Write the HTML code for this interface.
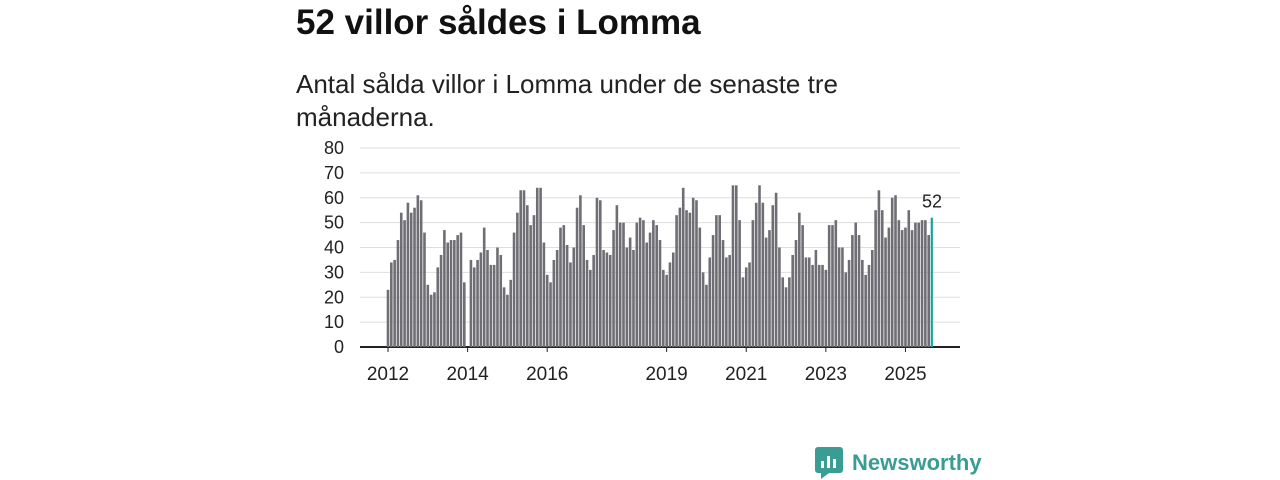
<!DOCTYPE html>
<html><head><meta charset="utf-8"><style>
body{margin:0;width:1280px;height:480px;background:#fff;font-family:"Liberation Sans",sans-serif;overflow:hidden;position:relative}
.t{position:absolute;left:296px;top:3px;font-size:35px;font-weight:bold;color:#111}
.s{position:absolute;left:296px;top:68px;font-size:26px;line-height:33px;color:#222;width:600px}
</style></head><body>
<div class="t">52 villor såldes i Lomma</div>
<div class="s">Antal sålda villor i Lomma under de senaste tre månaderna.</div>
<svg id="c" width="1280" height="480" style="position:absolute;left:0;top:0"></svg>
<div style="position:absolute;left:815px;top:447px;display:flex;align-items:center">
<svg width="28" height="32"><rect x="0" y="0" width="28" height="26" rx="3" fill="#3a9d94"/><polygon points="6,26 14,26 6,32" fill="#3a9d94"/><rect x="6" y="14" width="3" height="7" fill="#fff"/><rect x="12" y="9" width="3" height="12" fill="#fff"/><rect x="18" y="12" width="3" height="9" fill="#fff"/></svg>
<span style="margin-left:9px;font-size:22px;font-weight:bold;color:#3a9d94">Newsworthy</span></div>
<script>
const values=[23,34,35,43,54,51,58,54,56,61,59,46,
25,21,22,32,37,47,42,43,43,45,46,26,
0,35,32,35,38,48,39,33,33,40,37,24,
21,27,46,54,63,63,57,49,53,64,64,42,
29,26,35,39,48,49,41,34,40,56,61,49,
35,31,37,60,59,39,38,37,47,57,50,50,
40,44,39,50,52,51,42,46,51,49,43,31,
29,34,38,53,56,64,55,54,60,59,48,30,
25,36,45,53,53,43,36,37,65,65,51,28,
32,34,51,58,65,58,44,47,57,62,40,28,
24,28,37,43,54,49,36,36,33,39,33,33,
31,49,49,51,40,40,30,35,45,50,45,35,
29,33,39,55,63,55,44,48,60,61,51,47,
48,55,47,50,50,51,51,45,52];
const yTicks=[0,10,20,30,40,50,60,70,80];
const xYears=[2012,2014,2016,2019,2021,2023,2025];
const startYear=2012;
const svg=document.getElementById('c');const NS='http://www.w3.org/2000/svg';
const n=values.length;
const X=i=>388+i*(932-388)/(n-1);
const Y=v=>347-v*(347-148)/80;
function mk(t,a){const e=document.createElementNS(NS,t);for(const k in a)e.setAttribute(k,a[k]);svg.appendChild(e);return e;}
yTicks.forEach(v=>{
 const g=mk('line',{x1:360,x2:960,y1:Y(v),y2:Y(v),stroke:v?'#dedede':'#222','stroke-width':v?1:2});
 
 
 const t=mk('text',{x:344,y:Y(v)+6,'text-anchor':'end','font-size':18,fill:'#222'});t.textContent=v;
 
 
});
values.forEach((v,i)=>{
 const last=i===n-1;
 const r=mk('rect',{x:X(i)-1.3,y:Y(v),width:last?2.2:2.6,height:347-Y(v),fill:last?'#1aa39a':'#6e6e74'});
 
 
});
const lt=mk('text',{x:X(n-1),y:Y(values[n-1])-10,'text-anchor':'middle','font-size':18,fill:'#222'});lt.textContent=values[n-1];


xYears.forEach(y=>{
 const x=X((y-startYear)*12);
 const tk=mk('line',{x1:x,x2:x,y1:347,y2:352,stroke:'#222','stroke-width':1});
 
 
 const t=mk('text',{x:x,y:380,'text-anchor':'middle','font-size':19,fill:'#222'});t.textContent=y;
 
 
});
</script>
</body></html>
